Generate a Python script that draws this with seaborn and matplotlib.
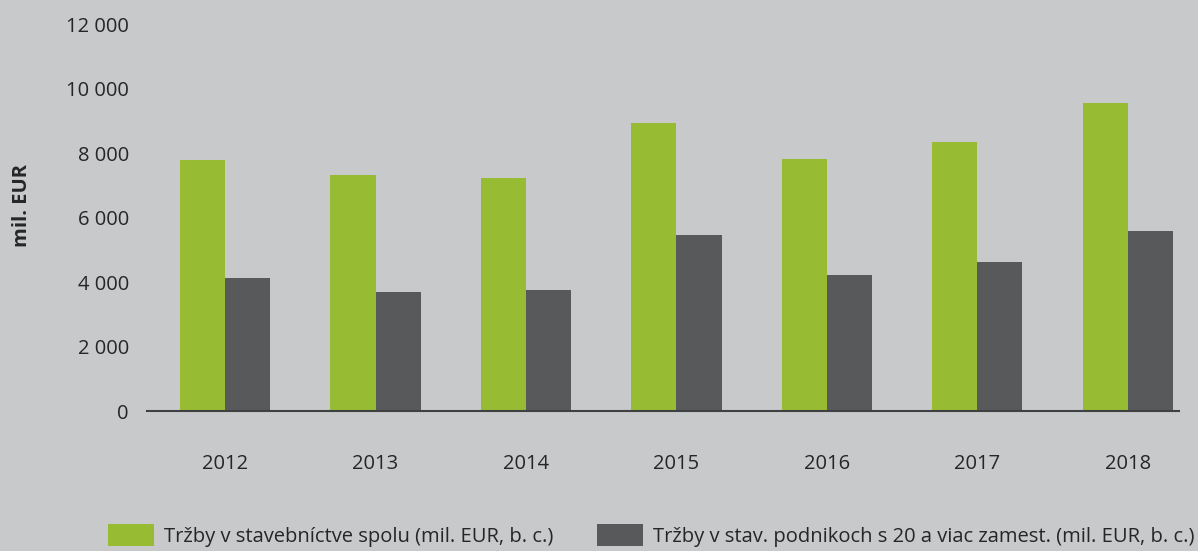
import matplotlib.pyplot as plt
import seaborn as sns
import pandas as pd
from matplotlib.patches import Patch

# data
years = ["2012", "2013", "2014", "2015", "2016", "2017", "2018"]
trzby_spolu = [7780, 7320, 7230, 8930, 7810, 8340, 9550]
trzby_20 = [4120, 3690, 3750, 5460, 4220, 4620, 5580]
series_names = ["Tržby v stavebníctve spolu (mil. EUR, b. c.)",
                "Tržby v stav. podnikoch s 20 a viac zamest. (mil. EUR, b. c.)"]
y_ticks = [0, 2000, 4000, 6000, 8000, 10000, 12000]
y_tick_labels = ["0", "2 000", "4 000", "6 000", "8 000", "10 000", "12 000"]

bg = "#c8c9cb"
colors = ["#97bc33", "#58595b"]
text_col = "#262626"

df = pd.DataFrame({
    "Rok": years * 2,
    "Hodnota": trzby_spolu + trzby_20,
    "Rad": [series_names[0]] * len(years) + [series_names[1]] * len(years),
})

sns.set_theme(style="white")
plt.rcParams["font.family"] = ["Open Sans", "DejaVu Sans"]

fig = plt.figure(figsize=(11.98, 5.51), dpi=100, facecolor=bg)
ax = fig.add_axes([0.1227, 0.254, 0.8613, 0.7024])
ax.set_facecolor(bg)

sns.barplot(data=df, x="Rok", y="Hodnota", hue="Rad", palette=colors,
            width=0.6, saturation=1, linewidth=0, ax=ax, legend=False)

ax.set_ylim(0, 12000)
ax.set_xlim(-0.52, 6.34)
ax.set_yticks(y_ticks)
ax.set_yticklabels(y_tick_labels)
ax.tick_params(axis="both", length=0, labelsize=14.5, colors=text_col)
ax.tick_params(axis="y", pad=13)
ax.tick_params(axis="x", pad=31)
ax.set_xlabel("")
ax.set_ylabel("mil. EUR", fontsize=14.5, fontweight="bold", color=text_col)
ax.yaxis.set_label_coords(-0.111, 0.532)

for side in ["top", "right", "left"]:
    ax.spines[side].set_visible(False)
ax.spines["bottom"].set_color("#3f4042")
ax.spines["bottom"].set_linewidth(1.5)

handles = [Patch(facecolor=c, edgecolor="none") for c in colors]
fig.legend(handles, series_names, loc="lower left", bbox_to_anchor=(0.075, -0.025),
           ncol=2, frameon=False, fontsize=14.5, handlelength=2.29, handleheight=1.34,
           handletextpad=0.5, columnspacing=2.14, labelcolor=text_col)

fig.savefig("out.png", dpi=100, facecolor=bg)
